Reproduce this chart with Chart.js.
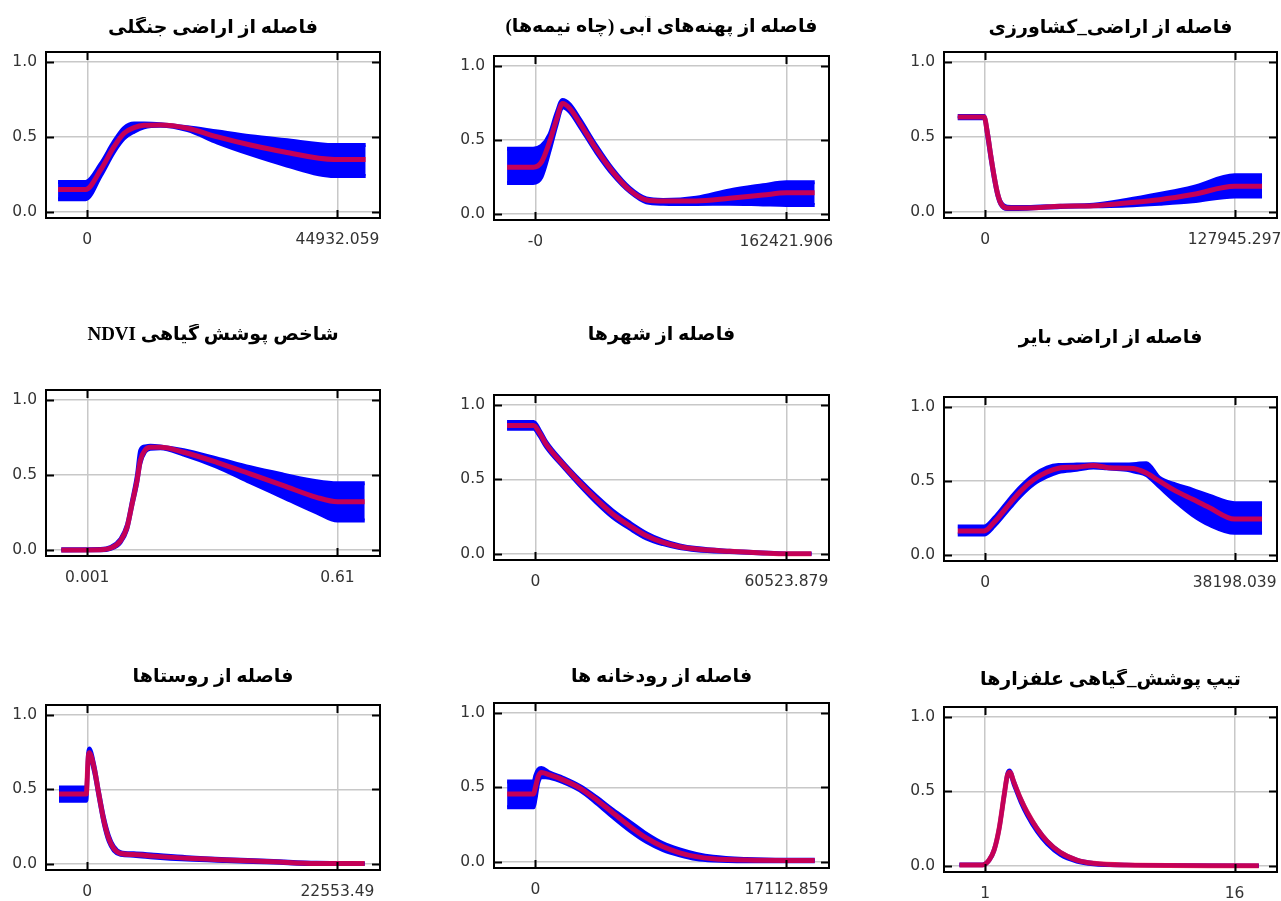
<!DOCTYPE html>
<html lang="fa">
<head>
<meta charset="utf-8">
<title>منحنی‌های پاسخ</title>
<script src="https://cdn.jsdelivr.net/npm/chart.js@4.4.1/dist/chart.umd.min.js"></script>
<style>
    html, body { margin: 0; padding: 0; background: #fff; width: 1281px; height: 901px; overflow: hidden; }
    canvas { position: absolute; }
</style>
</head>
<body>
<script>
// عناوین
const titulos = [
    'فاصله از اراضی جنگلی',
    'فاصله از پهنه‌های آبی (چاه نیمه‌ها)',
    'فاصله از اراضی_کشاورزی',
    'شاخص پوشش گیاهی NDVI',
    'فاصله از شهرها',
    'فاصله از اراضی بایر',
    'فاصله از روستاها',
    'فاصله از رودخانه ها',
    'تیپ پوشش_گیاهی علفزارها'
];

// valores de los ticks del eje x (min y max de cada variable)
const ticksMin = [0, 0, 0, 0.001, 0, 0, 0, 0, 1];
const ticksMax = [44932.059, 162421.906, 127945.297, 0.61, 60523.879, 38198.039, 22553.49, 17112.859, 16];
const etiquetasMin = ['0', '-0', '0', '0.001', '0', '0', '0', '0', '1'];
const etiquetasMax = ['44932.059', '162421.906', '127945.297', '0.61', '60523.879', '38198.039', '22553.49', '17112.859', '16'];
const ticksY = [0, 0.5, 1];
const etiquetasY = ['0.0', '0.5', '1.0'];

// 1. bosque
const xBosque = [-5250, -300, 2400, 4800, 6600, 8400, 10200, 13200, 18000, 23400, 29300, 35400, 44350, 50000];
const mediaBosque = [0.15, 0.15, 0.28, 0.435, 0.525, 0.562, 0.578, 0.58, 0.558, 0.50, 0.446, 0.40, 0.35, 0.35];
const altoBosque = [0.20, 0.20, 0.32, 0.47, 0.56, 0.59, 0.59, 0.585, 0.565, 0.536, 0.505, 0.48, 0.446, 0.446];
const bajoBosque = [0.085, 0.085, 0.24, 0.40, 0.49, 0.535, 0.565, 0.575, 0.545, 0.462, 0.385, 0.315, 0.24, 0.24];

// 2. agua
const xAgua = [-18350, -1460, 3900, 9260, 13640, 17540, 22250, 28750, 39470, 50190, 61070, 71790, 82670, 104110, 125710, 147320, 162420, 180780];
const mediaAgua = [0.316, 0.316, 0.35, 0.49, 0.636, 0.746, 0.713, 0.614, 0.437, 0.283, 0.161, 0.095, 0.088, 0.088, 0.106, 0.128, 0.143, 0.143];
const altoAgua = [0.44, 0.44, 0.46, 0.54, 0.68, 0.77, 0.74, 0.64, 0.46, 0.30, 0.175, 0.105, 0.095, 0.11, 0.16, 0.194, 0.215, 0.215];
const bajoAgua = [0.21, 0.21, 0.25, 0.43, 0.60, 0.72, 0.69, 0.59, 0.415, 0.265, 0.15, 0.08, 0.07, 0.068, 0.07, 0.065, 0.062, 0.062];

// 3. agricola
const xAgricola = [-14070, -510, 1150, 2940, 4600, 6270, 7930, 11390, 21500, 38510, 55530, 72420, 89430, 106450, 127945, 142020];
const mediaAgricola = [0.633, 0.633, 0.527, 0.371, 0.238, 0.127, 0.06, 0.027, 0.027, 0.038, 0.042, 0.06, 0.082, 0.116, 0.171, 0.171];
const altoAgricola = [0.64, 0.64, 0.545, 0.39, 0.255, 0.14, 0.07, 0.035, 0.033, 0.042, 0.048, 0.08, 0.12, 0.165, 0.244, 0.244];
const bajoAgricola = [0.625, 0.625, 0.50, 0.345, 0.215, 0.11, 0.05, 0.02, 0.022, 0.034, 0.038, 0.043, 0.055, 0.071, 0.104, 0.104];

// 4. ndvi
const xNdvi = [-0.0623, 0.0333, 0.0576, 0.082, 0.0978, 0.110, 0.122, 0.130, 0.142, 0.1545, 0.179, 0.2355, 0.316, 0.3975, 0.4785, 0.559, 0.61, 0.6764];
const mediaNdvi = [0.0, 0.002, 0.013, 0.062, 0.151, 0.307, 0.462, 0.596, 0.667, 0.684, 0.684, 0.651, 0.584, 0.507, 0.429, 0.351, 0.322, 0.322];
const altoNdvi = [0.005, 0.007, 0.02, 0.075, 0.17, 0.33, 0.50, 0.665, 0.69, 0.695, 0.69, 0.665, 0.61, 0.551, 0.502, 0.458, 0.444, 0.444];
const bajoNdvi = [-0.003, -0.002, 0.008, 0.05, 0.135, 0.29, 0.44, 0.575, 0.655, 0.675, 0.678, 0.635, 0.555, 0.451, 0.351, 0.251, 0.196, 0.196];

// 5. ciudades
const xCiudades = [-6840, -420, 1030, 2660, 6660, 10710, 14710, 18700, 22760, 26750, 30810, 34800, 38800, 46850, 54900, 60524, 66580];
const mediaCiudades = [0.862, 0.862, 0.811, 0.733, 0.60, 0.478, 0.367, 0.267, 0.189, 0.122, 0.078, 0.049, 0.033, 0.018, 0.007, 0.002, 0.002];
const altoCiudades = [0.885, 0.885, 0.83, 0.75, 0.615, 0.495, 0.387, 0.29, 0.21, 0.14, 0.09, 0.058, 0.04, 0.022, 0.01, 0.004, 0.004];
const bajoCiudades = [0.84, 0.84, 0.79, 0.715, 0.585, 0.46, 0.345, 0.245, 0.17, 0.105, 0.066, 0.04, 0.026, 0.013, 0.004, 0.0, 0.0];

// 6. bayer
const xBayer = [-4200, -150, 1375, 3900, 5420, 7450, 9470, 11230, 14020, 16580, 18600, 21620, 23150, 24680, 26700, 29220, 31780, 34300, 38198, 42400];
const mediaBayer = [0.162, 0.162, 0.221, 0.354, 0.431, 0.509, 0.56, 0.586, 0.593, 0.604, 0.591, 0.586, 0.58, 0.553, 0.498, 0.431, 0.376, 0.321, 0.243, 0.243];
const altoBayer = [0.192, 0.192, 0.25, 0.385, 0.46, 0.54, 0.59, 0.608, 0.61, 0.612, 0.61, 0.61, 0.615, 0.62, 0.52, 0.475, 0.44, 0.40, 0.35, 0.35];
const bajoBayer = [0.139, 0.139, 0.195, 0.325, 0.40, 0.48, 0.53, 0.56, 0.575, 0.59, 0.585, 0.575, 0.56, 0.54, 0.46, 0.36, 0.27, 0.205, 0.15, 0.15];

// 7. roosta
const xRoosta = [-2550, -90, 70, 180, 610, 1040, 1490, 1940, 2390, 3000, 4195, 6000, 8975, 12585, 16780, 20660, 25010];
const mediaRoosta = [0.469, 0.469, 0.70, 0.746, 0.646, 0.469, 0.292, 0.17, 0.104, 0.071, 0.064, 0.053, 0.038, 0.027, 0.015, 0.004, 0.003];
const altoRoosta = [0.513, 0.513, 0.74, 0.775, 0.67, 0.49, 0.315, 0.19, 0.118, 0.08, 0.072, 0.062, 0.046, 0.032, 0.02, 0.008, 0.006];
const bajoRoosta = [0.425, 0.425, 0.66, 0.72, 0.62, 0.445, 0.27, 0.15, 0.09, 0.062, 0.056, 0.044, 0.03, 0.02, 0.01, 0.0, 0.0];

// 8. rios
const xRios = [-1930, -120, 0, 190, 410, 975, 1880, 3030, 4160, 5290, 6435, 7560, 8710, 9840, 10970, 12115, 14390, 17113, 19050];
const mediaRios = [0.456, 0.456, 0.50, 0.573, 0.60, 0.584, 0.551, 0.496, 0.418, 0.329, 0.24, 0.162, 0.102, 0.062, 0.036, 0.022, 0.013, 0.011, 0.011];
const altoRios = [0.54, 0.54, 0.58, 0.62, 0.63, 0.60, 0.565, 0.51, 0.435, 0.35, 0.27, 0.19, 0.125, 0.085, 0.055, 0.035, 0.02, 0.015, 0.015];
const bajoRios = [0.367, 0.367, 0.42, 0.53, 0.57, 0.565, 0.535, 0.48, 0.395, 0.30, 0.21, 0.135, 0.08, 0.045, 0.02, 0.01, 0.005, 0.005, 0.005];

// 9. tipo de vegetacion
const xTipo = [-0.545, 0.835, 1.24, 1.54, 1.84, 2.14, 2.335, 2.485, 2.725, 3.13, 3.52, 4.12, 4.72, 5.515, 6.505, 7.51, 9.49, 17.455];
const mediaTipo = [0.007, 0.007, 0.04, 0.107, 0.251, 0.473, 0.607, 0.629, 0.562, 0.451, 0.362, 0.251, 0.167, 0.091, 0.04, 0.018, 0.007, 0.002];
const altoTipo = [0.01, 0.01, 0.045, 0.115, 0.26, 0.485, 0.62, 0.64, 0.57, 0.455, 0.365, 0.255, 0.17, 0.094, 0.042, 0.02, 0.008, 0.003];
const bajoTipo = [0.005, 0.005, 0.035, 0.1, 0.24, 0.46, 0.595, 0.615, 0.545, 0.43, 0.34, 0.23, 0.148, 0.075, 0.03, 0.012, 0.005, 0.001];

const series = [
    [xBosque, mediaBosque, altoBosque, bajoBosque],
    [xAgua, mediaAgua, altoAgua, bajoAgua],
    [xAgricola, mediaAgricola, altoAgricola, bajoAgricola],
    [xNdvi, mediaNdvi, altoNdvi, bajoNdvi],
    [xCiudades, mediaCiudades, altoCiudades, bajoCiudades],
    [xBayer, mediaBayer, altoBayer, bajoBayer],
    [xRoosta, mediaRoosta, altoRoosta, bajoRoosta],
    [xRios, mediaRios, altoRios, bajoRios],
    [xTipo, mediaTipo, altoTipo, bajoTipo]
];

// marco de cada panel: izquierda, arriba, ancho, alto, centro del titulo
const marcos = [
    [46, 52, 334, 166, 28],
    [494, 56, 335, 164, 27],
    [944, 52, 333, 166, 28],
    [46, 390, 334, 166, 335],
    [494, 395, 335, 165, 335],
    [944, 397, 333, 164, 338],
    [46, 705, 334, 165, 677],
    [494, 703, 335, 165, 677],
    [944, 707, 333, 165, 680]
];

const ANCHO_Y = 50;
const ALTO_X = 40;
const TAM_TITULO = 19;

// marco negro y marcas interiores
const pluginMarco = {
    id: 'marco',
    afterDraw(chart) {
        const { ctx, chartArea: a, scales } = chart;
        ctx.save();
        ctx.strokeStyle = '#000';
        ctx.lineWidth = 2;
        ctx.strokeRect(a.left, a.top, a.right - a.left, a.bottom - a.top);
        ctx.beginPath();
        scales.y.ticks.forEach(t => {
            const py = Math.round(scales.y.getPixelForValue(t.value)) + 0.5;
            ctx.moveTo(a.left, py); ctx.lineTo(a.left + 8, py);
            ctx.moveTo(a.right, py); ctx.lineTo(a.right - 8, py);
        });
        scales.x.ticks.forEach(t => {
            const px = Math.round(scales.x.getPixelForValue(t.value)) + 0.5;
            ctx.moveTo(px, a.top); ctx.lineTo(px, a.top + 8);
            ctx.moveTo(px, a.bottom); ctx.lineTo(px, a.bottom - 8);
        });
        ctx.stroke();
        ctx.restore();
    }
};

function puntos(xs, ys) {
    return xs.map((x, i) => ({ x: x, y: ys[i] }));
}

function crearPanel(i) {
    const [izq, arriba, ancho, alto, yTitulo] = marcos[i];
    const [xs, media, altoS, bajoS] = series[i];
    const lineaTitulo = TAM_TITULO * 1.2;
    const topCanvas = Math.round(yTitulo - lineaTitulo / 2);
    const padTitulo = arriba - topCanvas - lineaTitulo;

    const canvas = document.createElement('canvas');
    canvas.width = ancho + ANCHO_Y * 2;
    canvas.height = (arriba - topCanvas) + alto + ALTO_X;
    canvas.style.left = (izq - ANCHO_Y) + 'px';
    canvas.style.top = topCanvas + 'px';
    document.body.appendChild(canvas);

    const rango = ticksMax[i] - ticksMin[i];
    const etiquetasX = [etiquetasMin[i], etiquetasMax[i]];

    new Chart(canvas.getContext('2d'), {
        type: 'line',
        data: {
            datasets: [
                {
                    data: puntos(xs, media),
                    borderColor: 'rgba(245, 0, 45, 0.8)',
                    borderWidth: 5,
                    pointRadius: 0,
                    fill: false,
                    cubicInterpolationMode: 'monotone',
                    borderJoinStyle: 'round'
                },
                {
                    data: puntos(xs, altoS),
                    borderColor: '#0000ff',
                    backgroundColor: '#0000ff',
                    borderWidth: 4,
                    pointRadius: 0,
                    fill: '+1',
                    cubicInterpolationMode: 'monotone',
                    borderJoinStyle: 'round'
                },
                {
                    data: puntos(xs, bajoS),
                    borderColor: '#0000ff',
                    borderWidth: 4,
                    pointRadius: 0,
                    fill: false,
                    cubicInterpolationMode: 'monotone',
                    borderJoinStyle: 'round'
                }
            ]
        },
        options: {
            responsive: false,
            animation: false,
            devicePixelRatio: 1,
            events: [],
            layout: { padding: { left: 0, right: ANCHO_Y, top: 0, bottom: 0 } },
            plugins: {
                legend: { display: false },
                tooltip: { enabled: false },
                title: {
                    display: true,
                    fullSize: false,
                    text: '\u202B' + titulos[i] + '\u202C',
                    color: '#000',
                    font: { family: "'Liberation Serif', 'DejaVu Sans', serif", size: TAM_TITULO, weight: 'bold', lineHeight: 1.2 },
                    padding: { top: 0, bottom: padTitulo }
                }
            },
            scales: {
                x: {
                    type: 'linear',
                    min: ticksMin[i] - 0.165 * rango,
                    max: ticksMin[i] + 1.17 * rango,
                    afterFit: function (scale) { scale.height = ALTO_X; },
                    afterBuildTicks: function (scale) {
                        scale.ticks = [{ value: ticksMin[i] }, { value: ticksMax[i] }];
                    },
                    grid: { color: '#c8c8c8', lineWidth: 1.5, drawTicks: false },
                    border: { display: false },
                    ticks: {
                        autoSkip: false,
                        maxRotation: 0,
                        padding: 13,
                        color: '#333',
                        font: { family: "'DejaVu Sans'", size: 15.5 },
                        callback: function (value, index) { return etiquetasX[index]; }
                    }
                },
                y: {
                    min: -0.04,
                    max: 1.066,
                    afterFit: function (scale) { scale.width = ANCHO_Y; },
                    afterBuildTicks: function (scale) {
                        scale.ticks = ticksY.map(v => ({ value: v }));
                    },
                    grid: { color: '#c8c8c8', lineWidth: 1.5, drawTicks: false },
                    border: { display: false },
                    ticks: {
                        padding: 9,
                        color: '#333',
                        font: { family: "'DejaVu Sans'", size: 15.5 },
                        callback: function (value, index) { return etiquetasY[index]; }
                    }
                }
            }
        },
        plugins: [pluginMarco]
    });
}

document.addEventListener('DOMContentLoaded', function () {
    for (let i = 0; i < marcos.length; i++) {
        crearPanel(i);
    }
});
</script>
</body>
</html>
